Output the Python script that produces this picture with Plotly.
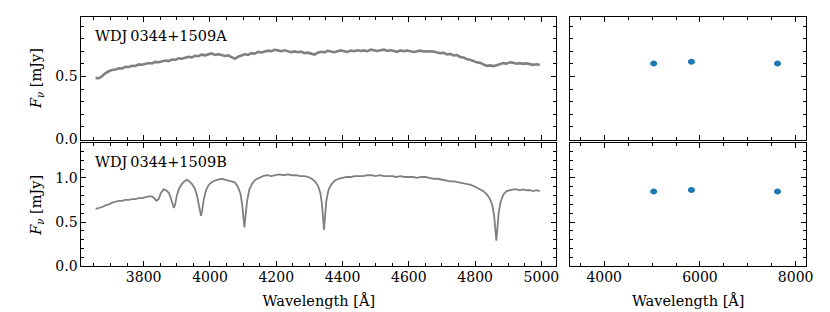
import numpy as np
import plotly.graph_objects as go

# ---------------- data ----------------
spec_a_start = 3655
spec_a_step = 10
spec_a_flux = [
    0.490, 0.487, 0.505, 0.528, 0.542, 0.553, 0.556, 0.566, 0.564, 0.577,
    0.576, 0.586, 0.584, 0.597, 0.594, 0.602, 0.608, 0.604, 0.617, 0.614,
    0.621, 0.627, 0.623, 0.636, 0.633, 0.645, 0.642, 0.650, 0.657, 0.653,
    0.665, 0.662, 0.674, 0.669, 0.678, 0.684, 0.672, 0.678, 0.671, 0.664,
    0.668, 0.652, 0.641, 0.658, 0.668, 0.677, 0.673, 0.686, 0.682, 0.696,
    0.691, 0.699, 0.706, 0.701, 0.713, 0.708, 0.702, 0.709, 0.703, 0.694,
    0.700, 0.693, 0.698, 0.686, 0.690, 0.683, 0.675, 0.689, 0.697, 0.692,
    0.705, 0.700, 0.694, 0.701, 0.708, 0.702, 0.696, 0.707, 0.701, 0.709,
    0.703, 0.708, 0.702, 0.714, 0.709, 0.703, 0.709, 0.714, 0.704, 0.709,
    0.703, 0.697, 0.708, 0.702, 0.707, 0.701, 0.695, 0.701, 0.706, 0.700,
    0.699, 0.694, 0.699, 0.692, 0.686, 0.689, 0.676, 0.680, 0.668, 0.671,
    0.656, 0.652, 0.638, 0.634, 0.622, 0.613, 0.609, 0.594, 0.585, 0.589,
    0.583, 0.590, 0.598, 0.607, 0.603, 0.614, 0.609, 0.602, 0.607, 0.601,
    0.605, 0.599, 0.593, 0.598, 0.594,
]

spec_b_wave = [
    3655, 3665, 3675, 3685, 3695, 3705, 3715, 3725, 3735, 3745,
    3755, 3765, 3775, 3785, 3795, 3805, 3815, 3825, 3832, 3838,
    3845, 3852, 3860, 3868, 3876, 3882, 3887, 3891, 3895, 3900,
    3907, 3915, 3923, 3930, 3938, 3946, 3954, 3961, 3966, 3970,
    3973, 3976, 3981, 3988, 3996, 4005, 4015, 4025, 4035, 4045,
    4055, 4065, 4075, 4084, 4092, 4097, 4101, 4104, 4107, 4112,
    4119, 4128, 4137, 4147, 4160, 4172, 4185, 4197, 4210, 4222,
    4235, 4247, 4260, 4272, 4285, 4297, 4307, 4317, 4326, 4333,
    4338, 4341, 4344, 4347, 4351, 4358, 4367, 4377, 4388, 4400,
    4412, 4425, 4437, 4450, 4462, 4475, 4487, 4500, 4512, 4525,
    4537, 4550, 4562, 4575, 4587, 4600, 4612, 4625, 4637, 4650,
    4662, 4675, 4687, 4700, 4712, 4725, 4737, 4750, 4762, 4775,
    4787, 4800, 4812, 4825, 4836, 4845, 4852, 4857, 4861, 4864,
    4867, 4871, 4877, 4885, 4895, 4905, 4915, 4925, 4935, 4945,
    4955, 4965, 4975, 4985, 4995,
]
spec_b_flux = [
    0.65, 0.66, 0.67, 0.69, 0.70, 0.72, 0.73, 0.74, 0.74, 0.75,
    0.75, 0.76, 0.76, 0.77, 0.77, 0.78, 0.79, 0.79, 0.77, 0.74,
    0.76, 0.83, 0.87, 0.86, 0.83, 0.77, 0.70, 0.66, 0.70, 0.80,
    0.88, 0.93, 0.96, 0.98, 0.96, 0.93, 0.88, 0.80, 0.70, 0.61,
    0.57, 0.62, 0.75, 0.86, 0.92, 0.95, 0.97, 0.98, 0.99, 0.98,
    0.97, 0.96, 0.95, 0.90, 0.82, 0.70, 0.55, 0.44, 0.56, 0.74,
    0.87, 0.94, 0.98, 1.00, 1.02, 1.03, 1.02, 1.03, 1.04, 1.03,
    1.04, 1.03, 1.03, 1.02, 1.02, 1.01, 0.99, 0.96, 0.91, 0.83,
    0.70, 0.55, 0.41, 0.55, 0.74, 0.87, 0.93, 0.97, 0.99, 1.00,
    1.01, 1.01, 1.02, 1.02, 1.02, 1.03, 1.03, 1.02, 1.03, 1.02,
    1.02, 1.02, 1.01, 1.02, 1.01, 1.01, 1.01, 1.00, 1.01, 1.01,
    1.00, 0.99, 0.99, 0.98, 0.97, 0.96, 0.96, 0.95, 0.94, 0.93,
    0.92, 0.90, 0.88, 0.85, 0.81, 0.76, 0.69, 0.58, 0.42, 0.29,
    0.42, 0.60, 0.73, 0.81, 0.85, 0.86, 0.87, 0.87, 0.86, 0.87,
    0.86, 0.86, 0.85, 0.86, 0.85,
]

phot_wave = [5035, 5822, 7620]
phot_wave_err = [70, 70, 70]
phot_a = [0.603, 0.618, 0.603]
phot_b = [0.845, 0.863, 0.845]
phot_err_a = [0.008, 0.008, 0.008]
phot_err_b = [0.010, 0.010, 0.010]

labels = ["WDJ\u20090344+1509A", "WDJ\u20090344+1509B"]

# ---------------- figure ----------------
W, H = 830, 312
FONT = "DejaVu Serif"
GRAY = "#808080"
BLUE = "#1f77b4"

spec_a_wave = np.arange(spec_a_start, spec_a_start + spec_a_step * len(spec_a_flux), spec_a_step)

fig = go.Figure()
fig.add_trace(go.Scatter(x=spec_a_wave, y=spec_a_flux, mode="lines",
                         line=dict(color=GRAY, width=2.6), xaxis="x", yaxis="y", showlegend=False))
fig.add_trace(go.Scatter(x=phot_wave, y=phot_a, mode="markers",
                         marker=dict(color=BLUE, size=6),
                         error_x=dict(type="data", array=phot_wave_err, color=BLUE, thickness=3, width=0),
                         error_y=dict(type="data", array=phot_err_a, color=BLUE, thickness=1.5, width=0),
                         xaxis="x2", yaxis="y2", showlegend=False))
fig.add_trace(go.Scatter(x=spec_b_wave, y=spec_b_flux, mode="lines",
                         line=dict(color=GRAY, width=1.8), xaxis="x3", yaxis="y3", showlegend=False))
fig.add_trace(go.Scatter(x=phot_wave, y=phot_b, mode="markers",
                         marker=dict(color=BLUE, size=6),
                         error_x=dict(type="data", array=phot_wave_err, color=BLUE, thickness=3, width=0),
                         error_y=dict(type="data", array=phot_err_b, color=BLUE, thickness=1.5, width=0),
                         xaxis="x4", yaxis="y4", showlegend=False))

px = lambda v: v / W
py = lambda v: 1 - v / H

left_dom = [px(74), px(553)]
right_dom = [px(567), px(805)]
top_dom = [py(135), py(9)]
bot_dom = [py(265), py(139)]

tickfont = dict(family=FONT, size=14, color="black")
titlefont = dict(family=FONT, size=14.5, color="black")

def xax(domain, anchor, rng, dtick, minor, show_labels, title=None):
    d = dict(domain=domain, anchor=anchor, range=rng, dtick=dtick, tick0=0,
             showline=True, linecolor="black", linewidth=1, mirror="allticks",
             ticks="inside", ticklen=5, tickwidth=1, tickcolor="black",
             minor=dict(dtick=minor, ticks="inside", ticklen=3, tickwidth=1, tickcolor="black"),
             showgrid=False, zeroline=False, showticklabels=show_labels, tickfont=tickfont,
             ticklabelstandoff=-2)
    if title:
        d["title"] = dict(text=title, font=titlefont, standoff=11)
    return d

def yax(domain, anchor, rng, show_labels, title=None):
    d = dict(domain=domain, anchor=anchor, range=rng, dtick=0.5, tick0=0,
             showline=True, linecolor="black", linewidth=1, mirror="allticks",
             ticks="inside", ticklen=5, tickwidth=1, tickcolor="black",
             minor=dict(dtick=0.1, ticks="inside", ticklen=3, tickwidth=1, tickcolor="black"),
             showgrid=False, zeroline=False, showticklabels=show_labels, tickfont=tickfont,
             tickformat=".1f")
    if title:
        d["title"] = dict(text=title, font=titlefont, standoff=10)
    return d

xl_rng = [3612, 5045]
xr_rng = [3290, 8220]
yt_rng = [0, 0.975]
yb_rng = [0, 1.39]
ytitle = "<i>F</i><sub><i>\u03bd</i></sub> [mJy]"

fig.update_layout(
    width=W, height=H,
    margin=dict(l=0, r=0, t=0, b=0),
    paper_bgcolor="white", plot_bgcolor="white",
    font=dict(family=FONT, size=14, color="black"),
    xaxis=xax(left_dom, "y", xl_rng, 200, 50, False),
    yaxis=yax(top_dom, "x", yt_rng, True, ytitle),
    xaxis2=xax(right_dom, "y2", xr_rng, 2000, 500, False),
    yaxis2=yax(top_dom, "x2", yt_rng, False),
    xaxis3=xax(left_dom, "y3", xl_rng, 200, 50, True, title="Wavelength [\u00c5]"),
    yaxis3=yax(bot_dom, "x3", yb_rng, True, ytitle),
    xaxis4=xax(right_dom, "y4", xr_rng, 2000, 500, True, title="Wavelength [\u00c5]"),
    yaxis4=yax(bot_dom, "x4", yb_rng, False),
    annotations=[
        dict(text=labels[0], x=px(86), y=py(29), xref="paper", yref="paper",
             xanchor="left", yanchor="middle", showarrow=False, font=titlefont),
        dict(text=labels[1], x=px(86), y=py(158), xref="paper", yref="paper",
             xanchor="left", yanchor="middle", showarrow=False, font=titlefont),
    ],
)

fig.write_html("out.html")
